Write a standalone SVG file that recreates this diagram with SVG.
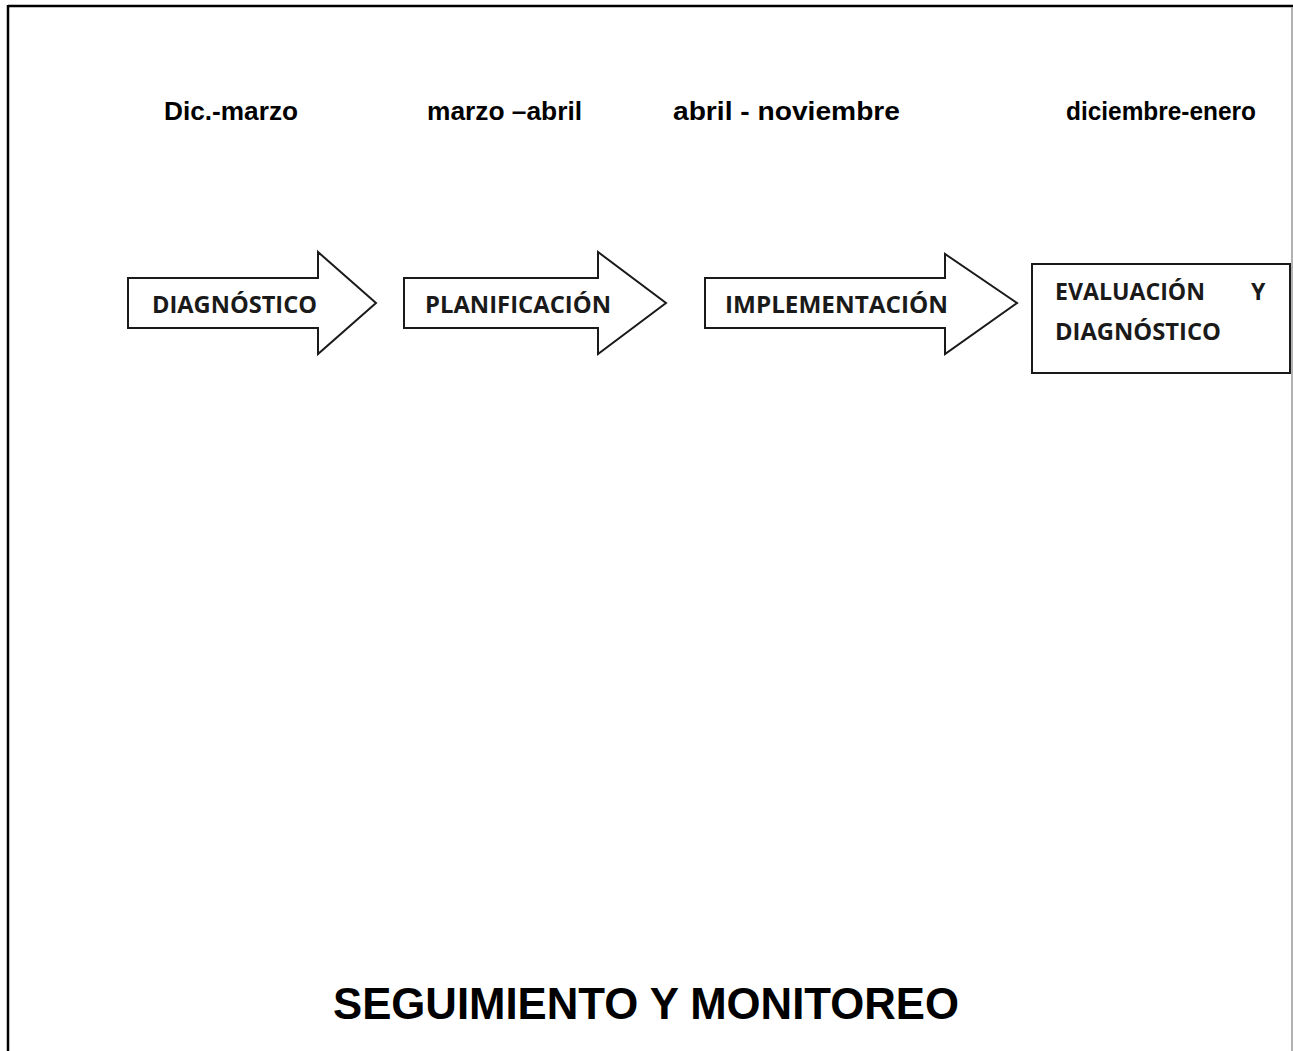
<svg xmlns="http://www.w3.org/2000/svg" width="1293" height="1051" viewBox="0 0 1293 1051">
<style>
.frame{stroke:#000;stroke-width:2.5;fill:none}
.shape{fill:#fff;stroke:#1a1a1a;stroke-width:2}
.lbl{font-family:"Open Sans","Noto Sans","Liberation Sans",sans-serif;font-weight:bold;font-size:23px;fill:#1a1a1a}
.date{font-family:"Liberation Sans",Arial,sans-serif;font-weight:bold;font-size:25px;fill:#000}
.title{font-family:"Liberation Sans",Arial,sans-serif;font-weight:bold;font-size:45px;fill:#000}
</style>
<rect width="1293" height="1051" fill="#fff"/>
<g id="frame">
<line class="frame" x1="8" y1="6" x2="1293" y2="6"/>
<line class="frame" x1="8" y1="5" x2="8" y2="1051"/>
<line x1="1292" y1="7" x2="1292" y2="1051" stroke="#999" stroke-width="1.5"/>
</g>
<g id="dates">
<text class="date" x="164" y="120" textLength="134" lengthAdjust="spacingAndGlyphs">Dic.-marzo</text>
<text class="date" x="427" y="120" textLength="155" lengthAdjust="spacingAndGlyphs">marzo –abril</text>
<text class="date" x="673" y="120" textLength="227" lengthAdjust="spacingAndGlyphs">abril - noviembre</text>
<text class="date" x="1066" y="120" textLength="190" lengthAdjust="spacingAndGlyphs">diciembre-enero</text>
</g>
<g id="diagnostico">
<polygon class="shape" points="128,278 318,278 318,252 376,303 318,354 318,328 128,328"/>
<text class="lbl" x="152" y="313" textLength="165" lengthAdjust="spacingAndGlyphs">DIAGNÓSTICO</text>
</g>
<g id="planificacion">
<polygon class="shape" points="404,278 598,278 598,252 666,303 598,354 598,328 404,328"/>
<text class="lbl" x="425" y="313" textLength="186" lengthAdjust="spacingAndGlyphs">PLANIFICACIÓN</text>
</g>
<g id="implementacion">
<polygon class="shape" points="705,278 945,278 945,254 1017,303 945,354 945,328 705,328"/>
<text class="lbl" x="725" y="313" textLength="223" lengthAdjust="spacingAndGlyphs">IMPLEMENTACIÓN</text>
</g>
<g id="evaluacion">
<rect class="shape" x="1032" y="264" width="258" height="109"/>
<text class="lbl" x="1055" y="300" textLength="150" lengthAdjust="spacingAndGlyphs">EVALUACIÓN</text>
<text class="lbl" x="1251" y="300">Y</text>
<text class="lbl" x="1055" y="340" textLength="166" lengthAdjust="spacingAndGlyphs">DIAGNÓSTICO</text>
</g>
<g id="connectors"></g>
<g id="title">
<text class="title" x="333" y="1019" textLength="626" lengthAdjust="spacingAndGlyphs">SEGUIMIENTO Y MONITOREO</text>
</g>
</svg>
